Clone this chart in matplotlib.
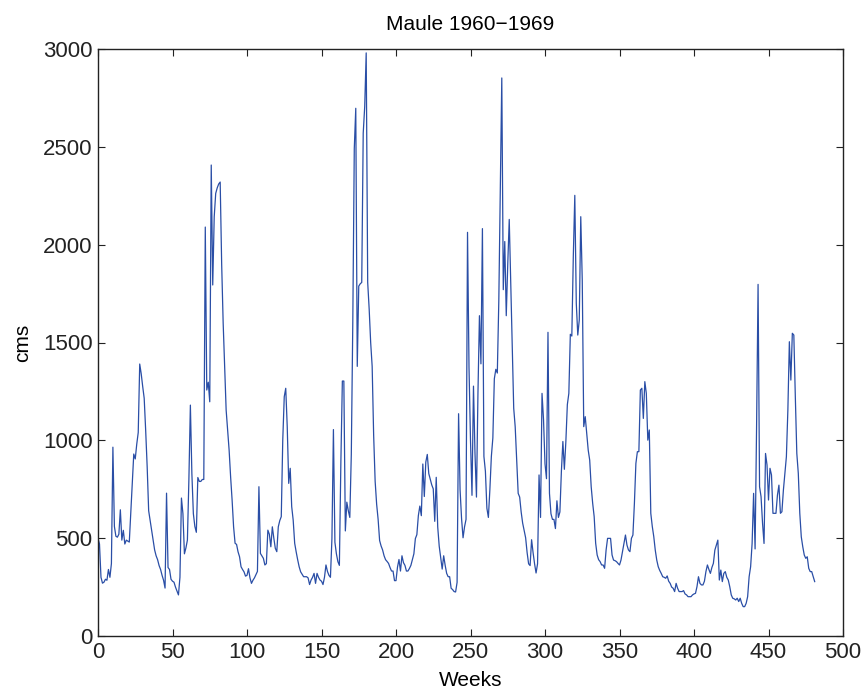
import numpy as np
import matplotlib
matplotlib.use("Agg")
import matplotlib.pyplot as plt

plt.rcParams['font.family'] = ['Liberation Sans', 'DejaVu Sans']

# weekly flow, weeks 0..481
flow = [
    500, 470, 300, 270, 275, 290, 285, 340, 300, 370,
    965, 560, 510, 505, 520, 645, 490, 540, 470, 490,
    485, 480, 630, 780, 930, 905, 980, 1040, 1390, 1340,
    1275, 1215, 1050, 865, 640, 590, 540, 490, 440, 410,
    390, 360, 340, 310, 285, 245, 730, 350, 340, 290,
    280, 275, 250, 230, 210, 300, 705, 625, 420, 450,
    490, 800, 1180, 830, 625, 560, 530, 810, 790, 790,
    800, 800, 2090, 1257, 1297, 1197, 2407, 1794, 2143, 2262,
    2290, 2310, 2320, 1900, 1600, 1376, 1155, 1050, 950, 814,
    695, 558, 474, 468, 430, 405, 354, 340, 328, 306,
    310, 344, 297, 269, 285, 297, 314, 330, 763, 422,
    410, 397, 363, 370, 541, 520, 456, 558, 500, 448,
    431, 558, 590, 610, 1002, 1223, 1266, 1070, 780, 857,
    661, 592, 474, 430, 390, 354, 328, 315, 303, 303,
    303, 297, 263, 286, 300, 320, 269, 320, 300, 286,
    280, 263, 300, 363, 330, 310, 300, 498, 1055, 479,
    420, 380, 361, 889, 1303, 1303, 537, 684, 640, 606,
    928, 1600, 2491, 2697, 1378, 1788, 1800, 1807, 2570, 2706,
    2980, 1807, 1670, 1500, 1378, 1026, 791, 674, 596, 488,
    460, 440, 410, 390, 381, 371, 350, 332, 332, 283,
    283, 352, 391, 332, 410, 375, 361, 332, 332, 345,
    361, 390, 420, 498, 518, 615, 664, 615, 879, 713,
    889, 928, 830, 800, 772, 752, 586, 811, 557, 459,
    400, 342, 410, 361, 320, 303, 303, 244, 237, 227,
    225, 274, 1136, 748, 600, 502, 558, 596, 2063, 1372,
    1000, 719, 1277, 937, 710, 1240, 1637, 1391, 2082, 918,
    842, 653, 606, 748, 918, 1012, 1315, 1363, 1344, 1713,
    2280, 2852, 1770, 2016, 1637, 1900, 2129, 1807, 1505, 1164,
    1069, 899, 729, 710, 634, 577, 539, 502, 426, 369,
    360, 492, 426, 369, 322, 369, 823, 606, 1240, 1107,
    880, 804, 1552, 729, 625, 596, 596, 549, 691, 606,
    634, 842, 994, 852, 994, 1183, 1240, 1542, 1533, 1940,
    2252, 1700, 1538, 1615, 2143, 1819, 1070, 1121, 1036, 950,
    899, 763, 678, 610, 474, 414, 390, 380, 363, 363,
    346, 439, 499, 499, 499, 414, 388, 385, 380, 371,
    363, 388, 431, 474, 516, 465, 440, 431, 499, 516,
    678, 882, 942, 942, 1257, 1266, 1112, 1300, 1240, 1001,
    1053, 627, 560, 508, 439, 388, 354, 335, 320, 303,
    300, 295, 307, 280, 269, 250, 244, 227, 269, 244,
    227, 227, 227, 232, 215, 210, 201, 201, 201, 210,
    215, 218, 252, 303, 269, 261, 261, 280, 329, 363,
    340, 320, 350, 371, 439, 465, 490, 286, 337, 278,
    320, 329, 300, 286, 252, 210, 193, 190, 184, 193,
    176, 193, 167, 150, 150, 167, 201, 303, 354, 473,
    729, 445, 1070, 1797, 763, 712, 576, 473, 933, 874,
    695, 857, 823, 627, 627, 627, 720, 771, 627, 635,
    746, 830, 916, 1155, 1504, 1308, 1547, 1538, 1223, 933,
    831, 627, 507, 456, 414, 397, 405, 346, 329, 329,
    303, 278,
]
weeks = np.arange(len(flow))

xticks = [0, 50, 100, 150, 200, 250, 300, 350, 400, 450, 500]
yticks = [0, 500, 1000, 1500, 2000, 2500, 3000]

fig = plt.figure(figsize=(8.68, 6.93), dpi=100)
ax = fig.add_axes([98/868, 1-636/693, (843-98)/868, (636-49)/693])

ax.plot(weeks, flow, color='#2a4ea6', linewidth=0.9)

ax.set_xlim(0, 500)
ax.set_ylim(0, 3000)
ax.set_xticks(xticks)
ax.set_yticks(yticks)
ax.tick_params(direction='in', length=5, width=0.8, labelsize=16, colors='#222222',
               top=True, right=True, pad=4)
for s in ax.spines.values():
    s.set_linewidth(1.0)
    s.set_color('#222222')

ax.set_title('Maule 1960\u22121969', fontsize=15, pad=14)
ax.set_xlabel('Weeks', fontsize=15, labelpad=6)
ax.set_ylabel('cms', fontsize=15, labelpad=8)

fig.savefig('out.png', dpi=100)
